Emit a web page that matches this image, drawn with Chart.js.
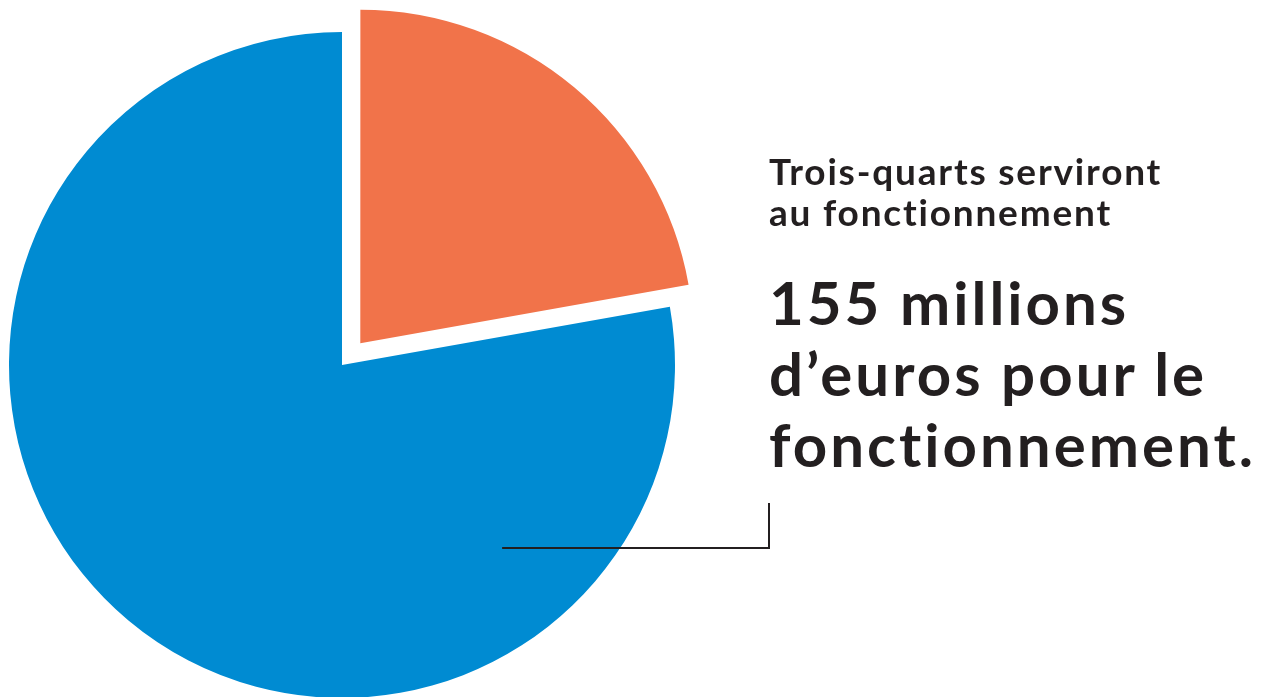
<!DOCTYPE html>
<html lang="fr">
<head>
<meta charset="utf-8">
<title>Budget de fonctionnement</title>
<script src="https://cdn.jsdelivr.net/npm/chart.js@4.4.1/dist/chart.umd.min.js"></script>
<style>
  html, body { margin: 0; padding: 0; background: #fff; overflow: hidden; }
  #wrap { position: absolute; left: 0; top: 0; width: 1267px; height: 697px; }
  .txt { position: absolute; left: 769px; color: #231f20; font-family: Lato, "Open Sans", sans-serif;
         white-space: nowrap; font-variant-ligatures: none; font-feature-settings: "liga" 0; }
  #sub { top: 150px; font-size: 37px; font-weight: 700; line-height: 41px; letter-spacing: 1.8px; }
  #big { top: 267px; font-size: 60px; font-weight: 700; line-height: 71px; letter-spacing: 3px; }
</style>
</head>
<body>
<div id="wrap">
  <canvas id="pie"></canvas>
</div>
<div class="txt" id="sub">Trois-quarts serviront<br>au fonctionnement</div>
<div class="txt" id="big">155 millions<br>d’euros pour le<br>fonctionnement.</div>
<script>
// share of the budget, in %
const categories = ['Autre', 'Fonctionnement'];
const shares = [22.2, 77.8];
const colors = ['#f1734a', '#008bd2'];
// chart.js moves a slice by about offset/4
const offsets = [114, 0];

// leader line from the blue slice to the text block
const leaderLine = {
  id: 'leaderLine',
  afterDatasetsDraw(chart) {
    const arc = chart.getDatasetMeta(0).data[1];
    const ctx = chart.ctx;
    const ang = (48.8 * Math.PI) / 180;
    const r = arc.outerRadius * 0.73;
    const x0 = arc.x + Math.cos(ang) * r;
    const y0 = arc.y + Math.sin(ang) * r;
    const xe = 769;
    ctx.save();
    ctx.strokeStyle = '#231f20';
    ctx.lineWidth = 2;
    ctx.beginPath();
    ctx.moveTo(x0, y0);
    ctx.lineTo(xe, y0);
    ctx.lineTo(xe, y0 - 45);
    ctx.stroke();
    ctx.restore();
  }
};

new Chart(document.getElementById('pie'), {
  type: 'pie',
  data: {
    labels: categories,
    datasets: [{
      data: shares,
      backgroundColor: colors,
      offset: offsets,
      borderWidth: 0
    }]
  },
  options: {
    responsive: true,
    maintainAspectRatio: false,
    animation: false,
    radius: 333,
    layout: { padding: { left: 0, right: 583, top: 33, bottom: 0 } },
    plugins: {
      legend: { display: false },
      tooltip: { enabled: false }
    }
  },
  plugins: [leaderLine]
});
</script>
</body>
</html>
